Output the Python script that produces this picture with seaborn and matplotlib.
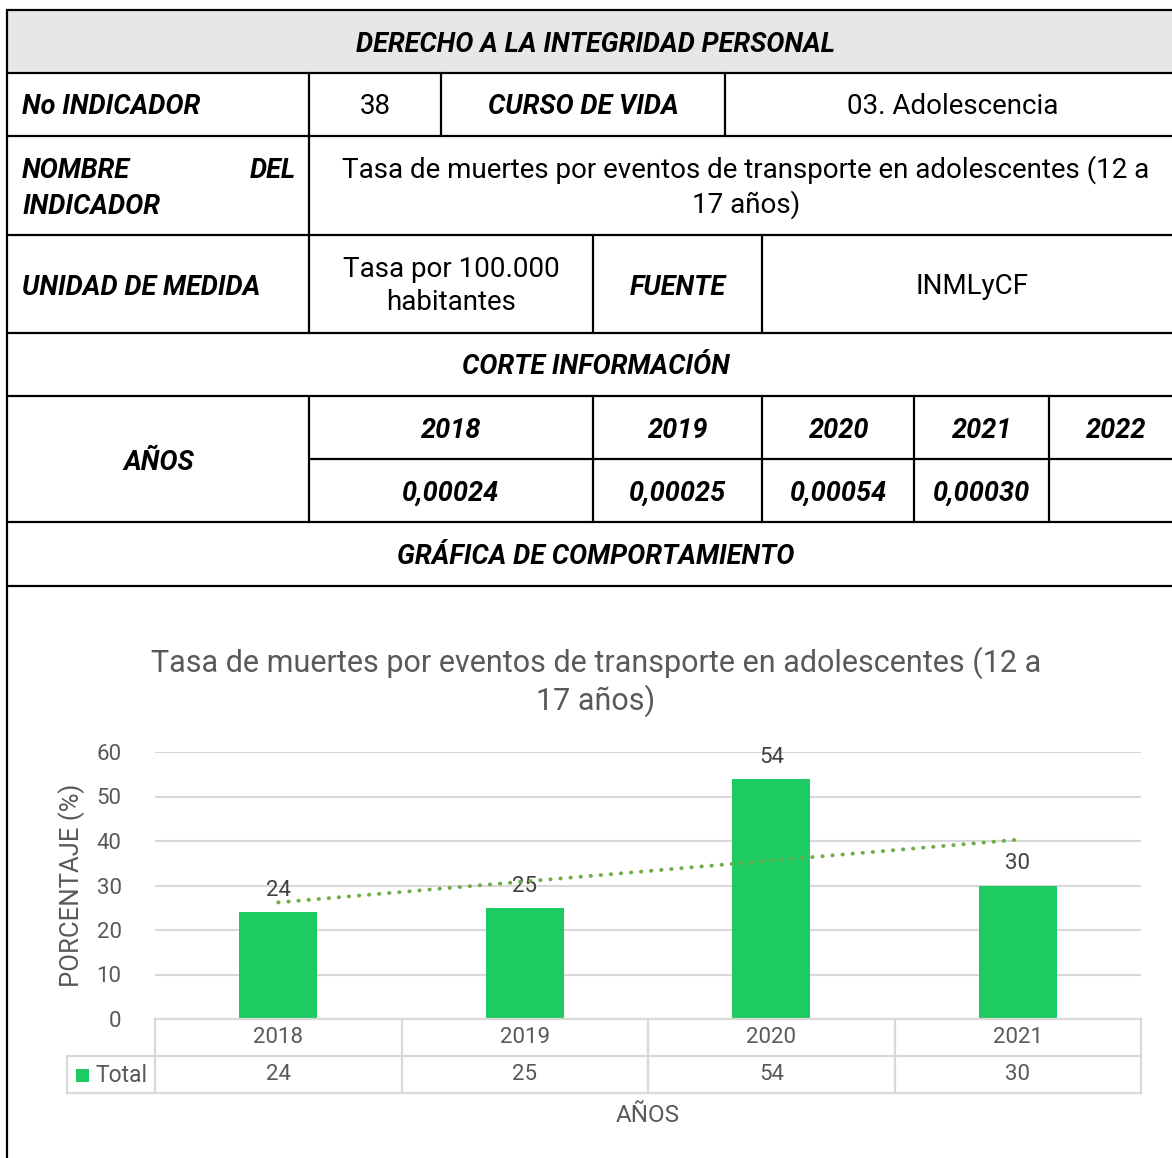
import numpy as np
import matplotlib
matplotlib.use("Agg")
import matplotlib.pyplot as plt
import seaborn as sns
from matplotlib.lines import Line2D
from matplotlib.patches import Rectangle

# ---------------- data ----------------
years = ["2018", "2019", "2020", "2021"]
values = [24, 25, 54, 30]
table_years = ["2018", "2019", "2020", "2021", "2022"]
table_rates = ["0,00024", "0,00025", "0,00054", "0,00030", ""]
section_title = "DERECHO A LA INTEGRIDAD PERSONAL"
indicator_no = "38"
life_course = "03. Adolescencia"
indicator_name = "Tasa de muertes por eventos de transporte en adolescentes (12 a\n17 años)"
unit = "Tasa por 100.000\nhabitantes"
source = "INMLyCF"
chart_title = "Tasa de muertes por eventos de transporte en adolescentes (12 a\n17 años)"
series_name = "Total"

# ---------------- style ----------------
sns.set_theme(style="white")
plt.rcParams["font.family"] = ["Roboto", "DejaVu Sans"]

BAR = "#1ECB63"
TREND = "#70AD47"
GRID = "#D9D9D9"
GREY = "#595959"

W, H = 1172, 1158
fig = plt.figure(figsize=(W / 100, H / 100), dpi=100)


def fx(x):
    return x / W


def fy(y):
    return 1 - y / H


def hline(y, x0, x1, color="black", lw=1.6):
    fig.add_artist(Line2D([fx(x0), fx(x1)], [fy(y), fy(y)], color=color, lw=lw))


def vline(x, y0, y1, color="black", lw=1.6):
    fig.add_artist(Line2D([fx(x), fx(x)], [fy(y0), fy(y1)], color=color, lw=lw))


def head(x, y, s, ha="center", size=19.5):
    fig.text(fx(x), fy(y + 2), s, ha=ha, va="center", fontsize=size,
             fontweight="bold", fontstyle="italic", color="black")


def body(x, y, s, size=20, ha="center", color="black", ls=1.3):
    fig.text(fx(x), fy(y + 1), s, ha=ha, va="center", fontsize=size,
             color=color, linespacing=ls, multialignment="center")


# ---------------- header table ----------------
fig.add_artist(Rectangle((fx(7), fy(73)), fx(1172) - fx(7), fy(10) - fy(73),
                         facecolor="#E7E7E7", edgecolor="none"))
for y in [10, 73, 136, 235, 333, 396, 522, 586]:
    hline(y, 7, 1172)
hline(459, 309, 1172)
vline(7, 10, 1158)
# row 2
vline(309, 73, 136); vline(441, 73, 136); vline(725, 73, 136)
# row 3
vline(309, 136, 235)
# row 4
vline(309, 235, 333); vline(593, 235, 333); vline(762, 235, 333)
# rows 6-7
for x in [309, 593, 762, 914, 1049]:
    vline(x, 396, 522)

head(596, 42, section_title)
head(22, 105, "No INDICADOR", ha="left")
body(375, 105, indicator_no)
head(583, 105, "CURSO DE VIDA")
body(953, 105, life_course)
head(22, 169, "NOMBRE", ha="left")
head(296, 169, "DEL", ha="right")
head(22, 204, "INDICADOR", ha="left")
body(746, 186, indicator_name)
head(22, 285, "UNIDAD DE MEDIDA", ha="left")
body(451, 285, unit)
head(678, 285, "FUENTE")
body(972, 285, source)
head(596, 365, "CORTE INFORMACIÓN")
head(159, 460, "AÑOS")
col_centers = [451, 678, 839, 982, 1116]
for xc, yr, rt in zip(col_centers, table_years, table_rates):
    head(xc, 428, yr)
    if rt:
        head(xc, 491, rt)
head(596, 554, "GRÁFICA DE COMPORTAMIENTO")

# ---------------- chart ----------------
ax_l, ax_r, ax_t, ax_b = 155, 1141, 752, 1019
ax = fig.add_axes([fx(ax_l), fy(ax_b), (ax_r - ax_l) / W, (ax_b - ax_t) / H])
sns.barplot(x=years, y=values, color=BAR, saturation=1, width=0.316, ax=ax,
            edgecolor=BAR, linewidth=0)
ax.set_xlim(-0.5, len(years) - 0.5)
ax.set_ylim(0, 60)
ax.set_yticks(range(0, 61, 10))
ax.yaxis.grid(True, color=GRID, lw=1.5)
ax.set_axisbelow(True)
for s in ax.spines.values():
    s.set_visible(False)
ax.tick_params(axis="y", length=0, pad=24, labelsize=16, labelcolor=GREY)
ax.set_xticks([])
ax.set_xlabel("")
ax.set_ylabel("")
ax.bar_label(ax.containers[0], labels=[str(v) for v in values], padding=8,
             fontsize=16, color="#404040")

# linear trend line
xs = np.arange(len(values))
k, b = np.polyfit(xs, values, 1)
ax.plot(xs, k * xs + b, color=TREND, lw=2.8, linestyle=(0, (0.1, 2.5)),
        dash_capstyle="round", clip_on=False, zorder=3)

# data table below the axis
r = 37 / (ax_b - ax_t)
tr = ax.get_xaxis_transform()
n = len(years)
leg_left = -0.5 - (ax_l - 67) / ((ax_r - ax_l) / n)
for yy in [0, -r]:
    ax.add_line(Line2D([-0.5, n - 0.5], [yy, yy], transform=tr, color=GRID,
                       lw=1.6, clip_on=False))
ax.add_line(Line2D([leg_left, n - 0.5], [-2 * r, -2 * r], transform=tr,
                   color=GRID, lw=1.6, clip_on=False))
ax.add_line(Line2D([leg_left, leg_left], [-r, -2 * r], transform=tr,
                   color=GRID, lw=1.6, clip_on=False))
ax.add_line(Line2D([leg_left, -0.5], [-r, -r], transform=tr,
                   color=GRID, lw=1.6, clip_on=False))
for i in range(n + 1):
    ax.add_line(Line2D([i - 0.5, i - 0.5], [0, -2 * r], transform=tr,
                       color=GRID, lw=1.6, clip_on=False))
for i, (yr, v) in enumerate(zip(years, values)):
    ax.text(i, -r / 2, yr, transform=tr, ha="center", va="center",
            fontsize=16, color=GREY)
    ax.text(i, -1.5 * r, str(v), transform=tr, ha="center", va="center",
            fontsize=16, color=GREY)

# legend key in the table
fig.add_artist(Rectangle((fx(76), fy(1082)), 13 / W, 13 / H,
                         facecolor=BAR, edgecolor="none"))
body(95, 1074, series_name, size=16.5, ha="left", color=GREY)

# titles
body(596, 681, chart_title, size=22, color=GREY, ls=1.2)
body(648, 1114, "AÑOS", size=17.5, color=GREY)
fig.text(fx(72), fy(885), "PORCENTAJE (%)", rotation=90, ha="center",
         va="center", fontsize=18.5, color=GREY)

fig.savefig("out.png", dpi=100)
